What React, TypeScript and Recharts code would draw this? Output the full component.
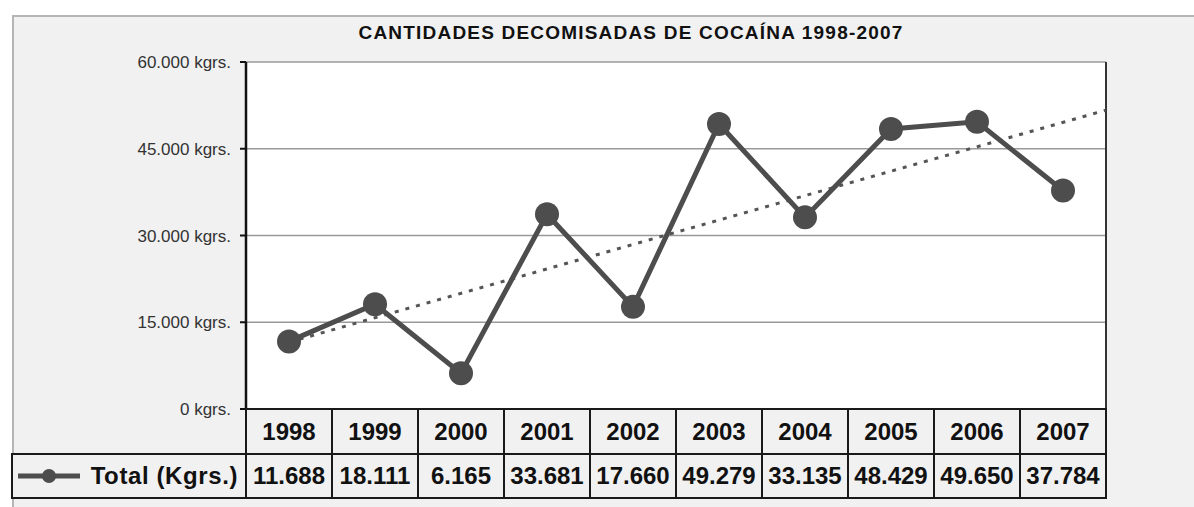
import React from 'react';
import {
  LineChart,
  Line,
  XAxis,
  YAxis,
  CartesianGrid,
  ReferenceLine,
} from 'recharts';

// datos
const years = ['1998', '1999', '2000', '2001', '2002', '2003', '2004', '2005', '2006', '2007'];
const totals = [11688, 18111, 6165, 33681, 17660, 49279, 33135, 48429, 49650, 37784];
const yTicks = [0, 15000, 30000, 45000, 60000];
const seriesName = 'Total (Kgrs.)';

const FONT = '"Liberation Sans", Arial, sans-serif';
const LINE_COLOR = '#4d4d4d';
const CELL_W = 86;
const FRAME_LEFT = 12;

const fmt = (v: number) => String(Math.round(v)).replace(/\B(?=(\d{3})+(?!\d))/g, '.');

const seriesData = years.map((year, i) => ({ x: i, year, total: totals[i] }));

// tendencia lineal (mínimos cuadrados), como la de Excel
const n = totals.length;
const meanX = (n - 1) / 2;
const meanY = totals.reduce((a, b) => a + b, 0) / n;
const slope =
  totals.reduce((acc, y, i) => acc + (i - meanX) * (y - meanY), 0) /
  totals.reduce((acc, _y, i) => acc + (i - meanX) * (i - meanX), 0);
const intercept = meanY - slope * meanX;
const trendData = [0, n - 0.5].map((x) => ({ x, trend: intercept + slope * x }));

function YTick(props: any) {
  const { x, y, payload } = props;
  return (
    <text
      x={x}
      y={y}
      dy={6}
      textAnchor="end"
      fontFamily={FONT}
      fontSize={17}
      fill="#333"
    >
      {`${fmt(payload.value)} kgrs.`}
    </text>
  );
}

function TableTick(props: any) {
  const { x, y, payload } = props;
  const i = payload.value as number;
  const left = x - CELL_W / 2;
  const rowH1 = 45;
  const rowH2 = 44;
  return (
    <g>
      <rect x={left} y={y} width={CELL_W} height={rowH1} fill="#f1f1f1" stroke="#1a1a1a" strokeWidth={2} />
      <text
        x={x}
        y={y + rowH1 / 2 + 8}
        textAnchor="middle"
        fontFamily={FONT}
        fontWeight="bold"
        fontSize={24}
        fill="#111"
      >
        {years[i]}
      </text>
      <rect x={left} y={y + rowH1} width={CELL_W} height={rowH2} fill="#f1f1f1" stroke="#1a1a1a" strokeWidth={2} />
      <text
        x={x}
        y={y + rowH1 + rowH2 / 2 + 8}
        textAnchor="middle"
        fontFamily={FONT}
        fontWeight="bold"
        fontSize={24}
        fill="#111"
      >
        {fmt(totals[i])}
      </text>
      {i === 0 && (
        <g>
          <rect
            x={FRAME_LEFT}
            y={y + rowH1}
            width={left - FRAME_LEFT}
            height={rowH2}
            fill="#f1f1f1"
            stroke="#1a1a1a"
            strokeWidth={2}
          />
          <line
            x1={FRAME_LEFT + 6}
            x2={FRAME_LEFT + 68}
            y1={y + rowH1 + rowH2 / 2}
            y2={y + rowH1 + rowH2 / 2}
            stroke={LINE_COLOR}
            strokeWidth={5}
          />
          <circle cx={FRAME_LEFT + 37} cy={y + rowH1 + rowH2 / 2} r={7} fill={LINE_COLOR} />
          <text
            x={left - 8}
            y={y + rowH1 + rowH2 / 2 + 8}
            textAnchor="end"
            fontFamily={FONT}
            fontWeight="bold"
            fontSize={24}
            letterSpacing={0.6}
            fill="#111"
          >
            {seriesName}
          </text>
        </g>
      )}
    </g>
  );
}

export default function App() {
  return (
    <div style={{ position: 'absolute', left: 0, top: 0, width: 1194, height: 507, background: '#fff', overflow: 'hidden' }}>
      <div
        style={{
          position: 'absolute',
          left: FRAME_LEFT,
          top: 15,
          width: 1200,
          height: 500,
          background: '#f1f1f1',
          borderLeft: '2px solid #b5b5b5',
          borderTop: '2px solid #b5b5b5',
        }}
      />
      <div
        style={{
          position: 'absolute',
          left: 631,
          top: 22,
          transform: 'translateX(-50%)',
          fontFamily: FONT,
          fontWeight: 'bold',
          fontSize: 19,
          letterSpacing: 1.2,
          whiteSpace: 'nowrap',
          color: '#111',
        }}
      >
        CANTIDADES DECOMISADAS DE COCAÍNA 1998-2007
      </div>
      <div style={{ position: 'absolute', left: 0, top: 0 }}>
        <LineChart width={1194} height={507} margin={{ top: 62, right: 88, bottom: 9, left: 0 }}>
          <CartesianGrid vertical={false} stroke="#999" strokeWidth={1.5} fill="#ffffff" fillOpacity={1} />
          <XAxis
            dataKey="x"
            type="number"
            domain={[-0.5, n - 0.5]}
            ticks={years.map((_y, i) => i)}
            interval={0}
            allowDataOverflow
            axisLine={false}
            tickLine={false}
            tickSize={0}
            tickMargin={0}
            height={89}
            tick={<TableTick />}
          />
          <YAxis
            type="number"
            domain={[0, 60000]}
            ticks={yTicks}
            width={246}
            axisLine={{ stroke: '#111', strokeWidth: 2.5 }}
            tickLine={{ stroke: '#111', strokeWidth: 2 }}
            tickSize={6}
            tickMargin={9}
            tick={<YTick />}
          />
          <ReferenceLine x={n - 0.5} stroke="#333" strokeWidth={2} />
          <Line
            data={trendData}
            dataKey="trend"
            type="linear"
            stroke="#555"
            strokeWidth={3}
            strokeDasharray="4 7"
            dot={false}
            activeDot={false}
            isAnimationActive={false}
          />
          <Line
            data={seriesData}
            dataKey="total"
            name={seriesName}
            type="linear"
            stroke={LINE_COLOR}
            strokeWidth={5}
            dot={{ r: 12, fill: LINE_COLOR, stroke: LINE_COLOR, strokeWidth: 0 }}
            activeDot={false}
            isAnimationActive={false}
          />
        </LineChart>
      </div>
    </div>
  );
}
